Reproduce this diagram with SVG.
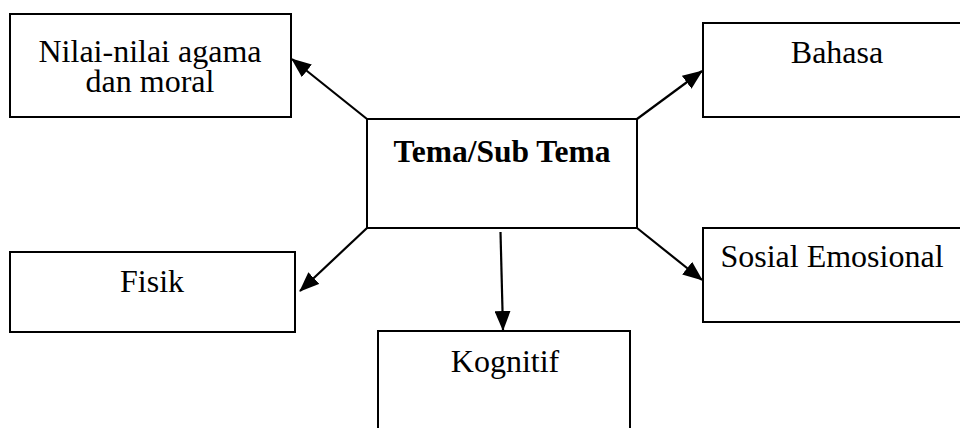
<svg xmlns="http://www.w3.org/2000/svg" width="960" height="428" viewBox="0 0 960 428">
<defs>
<style>
.box{fill:#fff;stroke:#000;stroke-width:2}
.t{font-family:"Liberation Serif","Times New Roman",serif;font-size:32px;fill:#000;text-anchor:middle}
.b{font-weight:bold;font-size:31.5px}
.c{stroke:#000;stroke-width:2.2;fill:none}
</style>
<marker id="ah" markerUnits="userSpaceOnUse" markerWidth="20" markerHeight="16" refX="19" refY="8" orient="auto">
<path d="M0,0 L20,8 L0,16 z" fill="#000"/>
</marker>
</defs>
<rect width="960" height="428" fill="#fff"/>
<g id="connectors">
<line class="c" x1="367" y1="119" x2="292" y2="59" marker-end="url(#ah)"/>
<line class="c" x1="637" y1="119" x2="702" y2="71" marker-end="url(#ah)"/>
<line class="c" x1="367" y1="228" x2="300" y2="291" marker-end="url(#ah)"/>
<line class="c" x1="637" y1="228" x2="702" y2="280" marker-end="url(#ah)"/>
<line class="c" x1="500.5" y1="232" x2="503" y2="330" marker-end="url(#ah)"/>
</g>
<g id="node-nilai">
<rect class="box" x="10" y="14" width="281" height="103"/>
<text class="t" x="150" y="62">Nilai-nilai agama</text>
<text class="t" x="150" y="92">dan moral</text>
</g>
<g id="node-bahasa">
<rect class="box" x="703" y="23" width="270" height="94"/>
<text class="t" x="837" y="63">Bahasa</text>
</g>
<g id="node-tema">
<rect class="box" x="367" y="119" width="270" height="109"/>
<text class="t b" x="502" y="161.5">Tema/Sub Tema</text>
</g>
<g id="node-fisik">
<rect class="box" x="10" y="252" width="285" height="80"/>
<text class="t" x="152" y="292">Fisik</text>
</g>
<g id="node-sosial">
<rect class="box" x="703" y="228" width="270" height="94"/>
<text class="t" x="832" y="267">Sosial Emosional</text>
</g>
<g id="node-kognitif">
<rect class="box" x="378" y="331" width="252" height="110"/>
<text class="t" x="505" y="372">Kognitif</text>
</g>
</svg>
